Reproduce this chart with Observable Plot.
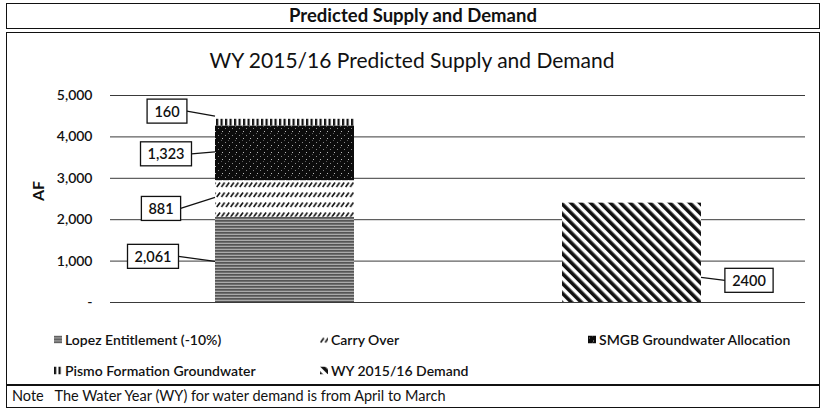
<!DOCTYPE html>
<html>
<head>
<meta charset="utf-8">
<script src="https://cdn.jsdelivr.net/npm/d3@7"></script>
<script src="https://cdn.jsdelivr.net/npm/@observablehq/plot@0.6"></script>
<style>
  html, body { margin: 0; padding: 0; background: #fff; }
  body { width: 824px; height: 410px; position: relative; overflow: hidden;
         font-family: Lato, "Open Sans", sans-serif; color: #111; }
  .box { position: absolute; box-sizing: border-box; border: 1.5px solid #111; }
  #header { left: 6px; top: 3px; width: 814px; height: 26px; text-align: center;
            font-weight: bold; font-size: 18.5px; line-height: 23px; }
  #chartbox { left: 6px; top: 32px; width: 814px; height: 353px; }
  #note { left: 6px; top: 385px; width: 814px; height: 23px; font-size: 14.5px; line-height: 20px; padding-left: 5px; }
  #title { position: absolute; left: 0; width: 824px; top: 47px; text-align: center; font-size: 21px; }
  #ylabel { position: absolute; left: 37px; top: 191px; transform: translate(-50%, -50%) rotate(-90deg);
            font-size: 16px; font-weight: bold; }
  #plot { position: absolute; left: 0; top: 70px; }
  .leg { position: absolute; font-size: 14px; font-weight: 600; white-space: nowrap; display: flex; align-items: center; transform: translateY(-50%); }
  .leg svg { margin-right: 3px; }
</style>
</head>
<body>
<svg width="0" height="0" style="position:absolute">
  <defs>
    <pattern id="pLopez" patternUnits="userSpaceOnUse" width="8" height="3">
      <rect width="8" height="3" fill="#aaaaaa"/>
      <rect y="0" width="8" height="1.7" fill="#555555"/>
    </pattern>
    <pattern id="pCarry" patternUnits="userSpaceOnUse" width="4.6" height="10">
      <rect width="4.6" height="10" fill="#fff"/>
      <line x1="0.6" y1="7" x2="3.8" y2="2.5" stroke="#111" stroke-width="1.6"/>
    </pattern>
    <pattern id="pSmgb" patternUnits="userSpaceOnUse" width="7" height="7">
      <rect width="7" height="7" fill="#0c0c0c"/>
      <rect x="1" y="2" width="1" height="1" fill="#8a8a8a"/>
      <rect x="5" y="5" width="1" height="1" fill="#bdbdbd"/>
      <rect x="4" y="0" width="1" height="1" fill="#5a5a5a"/>
    </pattern>
    <pattern id="pPismo" patternUnits="userSpaceOnUse" width="4.5" height="10">
      <rect width="4.5" height="10" fill="#fff"/>
      <rect width="2.2" height="10" fill="#111"/>
    </pattern>
    <pattern id="pDemand" patternUnits="userSpaceOnUse" width="7" height="7" patternTransform="rotate(-45)">
      <rect width="7" height="7" fill="#fff"/>
      <rect width="3.6" height="7" fill="#111"/>
    </pattern>
  </defs>
</svg>

<div id="header" class="box">Predicted Supply and Demand</div>
<div id="chartbox" class="box"></div>
<div id="note" class="box">Note&nbsp;&nbsp;&nbsp;The Water Year (WY) for water demand is from April to March</div>
<div id="title">WY 2015/16 Predicted Supply and Demand</div>
<div id="ylabel">AF</div>
<div id="plot"></div>
<div id="legend"></div>

<script>
// ---- data ----
const categories = ["Supply", "Demand"];
const supplySeries = ["Lopez Entitlement (-10%)", "Carry Over", "SMGB Groundwater Allocation", "Pismo Formation Groundwater"];
const supplyValues = [2061, 881, 1323, 160];
const supplyLabels = ["2,061", "881", "1,323", "160"];
const demandSeries = ["WY 2015/16 Demand"];
const demandValues = [2400];
const demandLabels = ["2400"];
const yTicks = [0, 1000, 2000, 3000, 4000, 5000];
const legendOrder = ["Lopez Entitlement (-10%)", "Carry Over", "SMGB Groundwater Allocation", "Pismo Formation Groundwater", "WY 2015/16 Demand"];

// ---- table ----
const table = [
  ...supplySeries.map((s, i) => ({category: categories[0], series: s, value: supplyValues[i], label: supplyLabels[i]})),
  ...demandSeries.map((s, i) => ({category: categories[1], series: s, value: demandValues[i], label: demandLabels[i]}))
];

const allSeries = [...supplySeries, ...demandSeries];
const patterns = ["url(#pLopez)", "url(#pCarry)", "url(#pSmgb)", "url(#pPismo)", "url(#pDemand)"];

const chart = Plot.plot({
  width: 824,
  height: 250,
  marginTop: 25,
  marginBottom: 18,
  marginLeft: 110,
  marginRight: 19,
  style: {fontFamily: "Lato, 'Open Sans', sans-serif", fontSize: "14px", color: "#111", background: "transparent"},
  x: {domain: categories, axis: null, paddingInner: 0.6, paddingOuter: 0.3},
  y: {domain: [0, 5000], ticks: yTicks, tickSize: 0, tickPadding: 18,
      tickFormat: d => d === 0 ? "-" : d3.format(",")(d), label: null},
  color: {domain: allSeries, range: patterns},
  marks: [
    Plot.ruleY(yTicks, {stroke: "#3a3a3a", strokeWidth: 1}),
    Plot.barY(table, {x: "category", y: "value", fill: "series"})
  ]
});
document.getElementById("plot").appendChild(chart);
d3.select(chart).selectAll("g[aria-label='y-axis tick label'] text, g[aria-label='y-axis'] text")
  .style("font-weight", "600");

// ---- data labels with callout boxes (positions from the library scales) ----
const xs = chart.scale("x"), ys = chart.scale("y");
const bw = xs.bandwidth;
// layout nudges (pixels) for each label: box centre offset from bar edge, vertical nudge, leader end nudge
const nudges = {
  "Lopez Entitlement (-10%)": {dx: -62, dy: -3, ly: 2},
  "Carry Over": {dx: -54, dy: 10, ly: -1},
  "SMGB Groundwater Allocation": {dx: -49, dy: 1, ly: -1},
  "Pismo Formation Groundwater": {dx: -48, dy: -11, ly: -6},
  "WY 2015/16 Demand": {dx: 48, dy: 28, ly: 25}
};
const g = d3.select(chart).append("g").attr("font-size", 14.5).attr("font-weight", 600);
let acc = {};
table.forEach(d => {
  const base = acc[d.category] || 0;
  acc[d.category] = base + d.value;
  const mid = ys.apply(base + d.value / 2);
  const left = xs.apply(d.category);
  const isDemand = d.category === categories[1];
  const edge = isDemand ? left + bw : left;
  const n = nudges[d.series];
  const cx = edge + n.dx, cy = mid + n.dy;
  const t = g.append("text").attr("x", cx).attr("y", cy).attr("text-anchor", "middle")
    .attr("dominant-baseline", "central").attr("fill", "#111").text(d.label);
  const bb = t.node().getBBox();
  const w = bb.width + 14, h = 24;
  const bx = cx - w / 2, by = cy - h / 2;
  g.insert("rect", "text").attr("x", bx).attr("y", by).attr("width", w).attr("height", h)
    .attr("fill", "#fff").attr("stroke", "#111").attr("stroke-width", 1.3);
  const sx = isDemand ? bx : bx + w;
  g.insert("line", "rect").attr("x1", sx).attr("y1", cy).attr("x2", edge).attr("y2", mid + n.ly)
    .attr("stroke", "#111").attr("stroke-width", 1.2);
});

// ---- legend ----
const legPos = [
  {x: 54, y: 339}, {x: 320, y: 339}, {x: 588, y: 339},
  {x: 54, y: 370}, {x: 320, y: 370}
];
const legend = document.getElementById("legend");
legendOrder.forEach((s, i) => {
  const div = document.createElement("div");
  div.className = "leg";
  div.style.left = legPos[i].x + "px";
  div.style.top = legPos[i].y + "px";
  const fill = patterns[allSeries.indexOf(s)];
  div.innerHTML = `<svg width="8" height="8"><rect width="8" height="8" fill="${fill}"/></svg><span>${s}</span>`;
  legend.appendChild(div);
});
</script>
</body>
</html>
